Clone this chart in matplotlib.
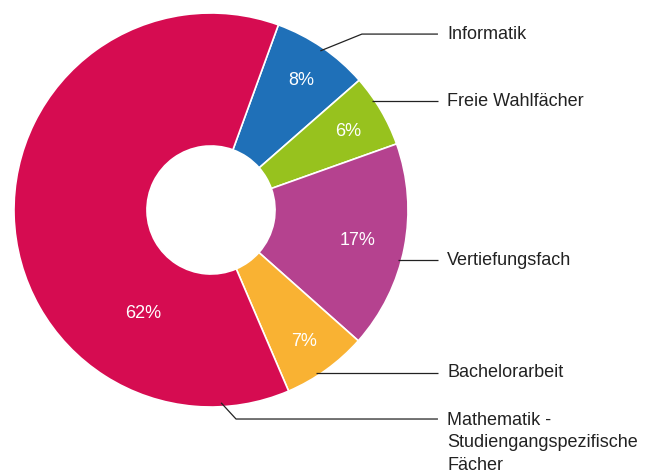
import numpy as np
import matplotlib.pyplot as plt

plt.rcParams['font.family'] = ['Liberation Sans', 'DejaVu Sans']

# data (clockwise, starting at the Informatik slice)
labels = ['Informatik', 'Freie Wahlfächer', 'Vertiefungsfach', 'Bachelorarbeit',
          'Mathematik -\nStudiengangspezifische\nFächer']
shares = [8, 6, 17, 7, 62]
colors = ['#1f70b8', '#97c21e', '#b5428f', '#f9b233', '#d60c51']

# label layout (data units, pie radius = 1)
label_y = [0.893, 0.553, -0.254, -0.827, -1.061]
anchor_deg = [34.5, None, None, None, 177.0]   # clockwise from north, None = horizontal
elbow_x = [0.766, None, None, None, 0.127]
line_end_x = 1.152
text_x = 1.198

W, H = 651, 473
cx, cy, R = 211, 210, 197

fig = plt.figure(figsize=(W / 100, H / 100), dpi=100)
ax = fig.add_axes([0, 0, 1, 1])
ax.axis('off')

start = 20.0  # degrees clockwise from north
ax.pie(shares, colors=colors, startangle=90 - start, counterclock=False,
       radius=1.0, wedgeprops=dict(width=0.675, edgecolor='white', linewidth=1.2))
ax.set_xlim(-cx / R, (W - cx) / R)
ax.set_ylim(-(H - cy) / R, cy / R)
ax.set_aspect('auto')

# percent labels
bounds = np.cumsum([0] + shares) / 100 * 360 + start
pct_r = [0.81, 0.81, 0.76, 0.81, 0.62]
pct_deg = [(bounds[i] + bounds[i + 1]) / 2 for i in range(len(shares))]
pct_deg[4] = 214.0
for s, a, r in zip(shares, pct_deg, pct_r):
    t = np.deg2rad(a)
    ax.text(r * np.sin(t), r * np.cos(t) - 0.01, f'{s}%', color='white', fontsize=13,
            ha='center', va='center')

# leader lines and category labels
for i, lab in enumerate(labels):
    ly = label_y[i]
    if anchor_deg[i] is None:
        ax0 = np.sqrt(0.985 ** 2 - ly ** 2)
        xs, ys = [ax0, line_end_x], [ly, ly]
    else:
        t = np.deg2rad(anchor_deg[i])
        ax0, ay0 = 0.98 * np.sin(t), 0.98 * np.cos(t)
        xs, ys = [ax0, elbow_x[i], line_end_x], [ay0, ly, ly]
    ax.plot(xs, ys, color='#222222', linewidth=0.9, solid_capstyle='butt')
    if '\n' in lab:
        ax.text(text_x, ly + 0.038, lab, fontsize=13, color='#222222', ha='left', va='top',
                linespacing=1.45)
    else:
        ax.text(text_x, ly, lab, fontsize=13, color='#222222', ha='left', va='center')

fig.savefig('out.png', dpi=100)
